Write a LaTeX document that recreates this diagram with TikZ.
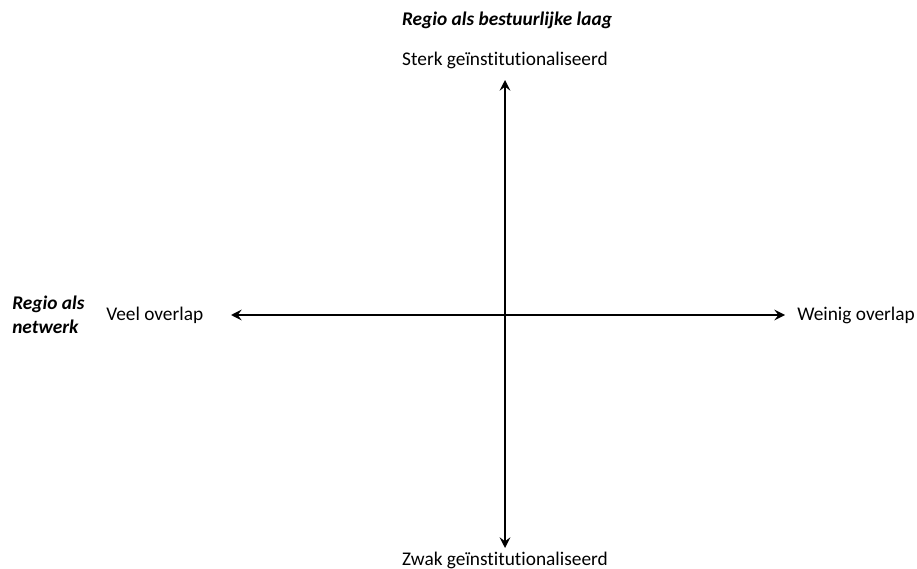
\documentclass[tikz,border=0pt]{standalone}
\usepackage{fontspec}
\setmainfont{Carlito}[Ligatures=NoCommon]
\usepackage{tikz}
\usetikzlibrary{arrows.meta}
\tikzset{
  axis/.style={draw=black, line width=1.5pt, {Stealth[length=8pt,width=8pt,inset=3pt]}-{Stealth[length=8pt,width=8pt,inset=3pt]}},
  lbl/.style={text=black, font=\fontsize{14.5}{18}\selectfont, inner sep=0pt},
  tlabel/.style={text=black, font=\fontsize{14.5}{18}\selectfont\bfseries\itshape, inner sep=0pt, align=left}
}

\begin{document}
\begin{tikzpicture}[x=0.75pt, y=0.75pt]
  \useasboundingbox (0,0) rectangle (917,568);

  \coordinate (top) at (505,488);
  \coordinate (bottom) at (505,20);
  \coordinate (left) at (231,253);
  \coordinate (right) at (785,253);

  \draw[axis] (bottom) -- (top);
  \draw[axis] (left) -- (right);

  \node[tlabel] (titlev) at (507,548) {Regio als bestuurlijke laag};
  \node[lbl] (sterk) at (505,508) {Sterk geïnstitutionaliseerd};
  \node[lbl] (zwak) at (505,8) {Zwak geïnstitutionaliseerd};
  \node[lbl, anchor=west] (veel) at (106,253) {Veel overlap};
  \node[lbl, anchor=west] (weinig) at (797,253) {Weinig overlap};
  \node[tlabel, anchor=west] (titleh) at (12,253) {Regio als\\netwerk};
\end{tikzpicture}
\end{document}
